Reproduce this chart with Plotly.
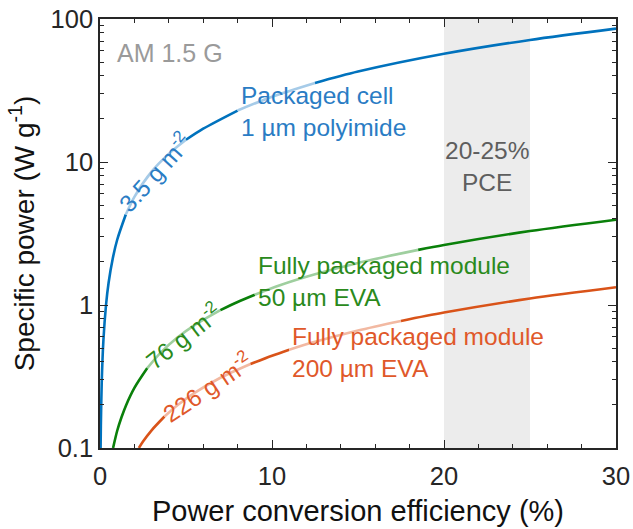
import plotly.graph_objects as go

# ---- data ----
pce_cell = [0.035, 0.05, 0.1, 0.2, 0.35, 0.5, 0.75, 1.0, 1.5, 2.0, 3.0, 4.0, 5.0, 6.0, 8.0, 10.0, 12.5, 15.0, 20.0, 25.0, 30.0]
sp_cell = [0.1, 0.143, 0.286, 0.571, 1.0, 1.43, 2.14, 2.86, 4.29, 5.71, 8.57, 11.4, 14.3, 17.1, 22.9, 28.6, 35.7, 42.9, 57.1, 71.4, 85.7]

pce_eva50 = [0.76, 1.0, 1.25, 1.5, 2.0, 2.75, 3.5, 4.5, 5.5, 7.0, 8.0, 9.0, 10.5, 12.5, 15.0, 18.5, 20.0, 25.0, 30.0]
sp_eva50 = [0.1, 0.132, 0.164, 0.197, 0.263, 0.362, 0.461, 0.592, 0.724, 0.921, 1.05, 1.18, 1.38, 1.64, 1.97, 2.43, 2.63, 3.29, 3.95]

pce_eva200 = [2.26, 2.5, 3.0, 3.75, 4.5, 5.5, 7.0, 8.75, 10.0, 11.0, 12.5, 15.0, 17.5, 20.0, 25.0, 30.0]
sp_eva200 = [0.1, 0.111, 0.133, 0.166, 0.199, 0.243, 0.31, 0.387, 0.442, 0.487, 0.553, 0.664, 0.774, 0.885, 1.11, 1.33]

# faded ranges of each curve (where labels sit)
fade_cell = [(1.5, 5.0), (8.0, 12.5)]
fade_eva50 = [(2.75, 7.0), (9.0, 18.5)]
fade_eva200 = [(3.75, 8.75), (11.0, 17.5)]

band = (20, 25)

C_BLUE, C_BLUE_L, C_BLUE_T = "#0072BD", "#a6cbe8", "#2a7cc4"
C_GREEN, C_GREEN_L, C_GREEN_T = "#0a800a", "#9fcf9f", "#2a8a1c"
C_ORANGE, C_ORANGE_L, C_ORANGE_T = "#D95319", "#f2b9a2", "#e0582a"

FONT = "Liberation Sans, Arial, Helvetica, sans-serif"
INK = "#262626"

fig = go.Figure()


def add_curve(xs, ys, fades, dark, light):
    # split into alternating dark / faded segments
    bounds = [xs[0]]
    for a, b in fades:
        bounds += [a, b]
    bounds.append(xs[-1])
    for i in range(len(bounds) - 1):
        lo, hi = bounds[i], bounds[i + 1]
        sx = [x for x in xs if lo <= x <= hi]
        sy = [y for x, y in zip(xs, ys) if lo <= x <= hi]
        col = light if i % 2 == 1 else dark
        fig.add_trace(go.Scatter(x=sx, y=sy, mode="lines",
                                 line=dict(color=col, width=2.6, shape="spline", smoothing=0.8),
                                 showlegend=False, hoverinfo="skip", cliponaxis=True))


add_curve(pce_cell, sp_cell, fade_cell, C_BLUE, C_BLUE_L)
add_curve(pce_eva50, sp_eva50, fade_eva50, C_GREEN, C_GREEN_L)
add_curve(pce_eva200, sp_eva200, fade_eva200, C_ORANGE, C_ORANGE_L)

fig.add_shape(type="rect", x0=band[0], x1=band[1], xref="x", yref="y domain", y0=0, y1=1,
              fillcolor="#ececec", line=dict(width=0), layer="below")

ann_font = 24.5


def ann(text, x, ylog, color, size=ann_font, xanchor="left", angle=0, align="left"):
    fig.add_annotation(text=text, x=x, y=ylog, xref="x", yref="y", showarrow=False,
                       xanchor=xanchor, yanchor="middle", textangle=angle, align=align,
                       font=dict(family=FONT, size=size, color=color))


ann("AM 1.5 G", 0.85, 1.762, "#9a9a9a", size=25)
ann("Packaged cell<br>1 µm polyimide", 8.1, 1.35, C_BLUE_T)
ann("20-25%<br>PCE", 22.5, 0.972, "#5e5e5e", xanchor="center", align="center")
ann("Fully packaged module<br>50 µm EVA", 9.05, 0.161, C_GREEN_T)
ann("Fully packaged module<br>200 µm EVA", 11.05, -0.332, C_ORANGE_T)

ann("3.5 g m<sup>-2</sup>", 3.15, 0.93, C_BLUE_T, size=24, xanchor="center", angle=-48)
ann("76 g m<sup>-2</sup>", 4.8, -0.215, C_GREEN_T, size=24, xanchor="center", angle=-38)
ann("226 g m<sup>-2</sup>", 6.2, -0.57, C_ORANGE_T, size=24, xanchor="center", angle=-34)

ytick_vals = [0.1, 1, 10, 100]
ytick_text = ["0.1", "1", "10", "100"]
y_minor = [m * d for d in (0.1, 1, 10) for m in range(2, 10)]

fig.update_xaxes(range=[0, 30], tickvals=[0, 10, 20, 30], ticks="inside", ticklen=8, tickwidth=1.4,
                 tickcolor=INK, showline=True, linecolor=INK, linewidth=1.6, mirror="allticks",
                 showgrid=False, zeroline=False, automargin=False, ticklabelstandoff=5,
                 minor=dict(tickvals=[2, 4, 6, 8, 12, 14, 16, 18, 22, 24, 26, 28], ticks="inside",
                            ticklen=4, tickwidth=1.2, tickcolor=INK),
                 tickfont=dict(family=FONT, size=25.5, color=INK),
                 title=dict(text="Power conversion efficiency (%)", standoff=11,
                            font=dict(family=FONT, size=29, color="#111111")))
fig.update_yaxes(type="log", range=[-1, 2], tickvals=ytick_vals, ticktext=ytick_text, ticks="inside",
                 ticklen=8, tickwidth=1.4, tickcolor=INK, showline=True, linecolor=INK, linewidth=1.6,
                 mirror="allticks", showgrid=False, zeroline=False, automargin=False,
                 minor=dict(tickvals=y_minor, ticks="inside", ticklen=4, tickwidth=1.2, tickcolor=INK),
                 tickfont=dict(family=FONT, size=25.5, color=INK),
                 title=dict(text="Specific power (W g<sup>-1</sup>)", standoff=8,
                            font=dict(family=FONT, size=28, color="#111111")))

fig.update_layout(width=633, height=529, margin=dict(l=100, r=17, t=19, b=81, autoexpand=False),
                  plot_bgcolor="white", paper_bgcolor="white")

fig.write_html("out.html")
